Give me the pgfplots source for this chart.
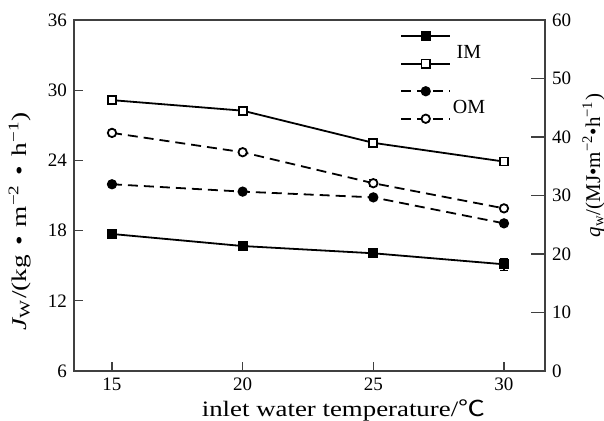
\documentclass[border=0pt]{standalone}
\usepackage{graphicx}
\usepackage{fontspec}
\setmainfont{Liberation Serif}
\newfontfamily\cjk{Noto Sans CJK SC}
\usepackage{pgfplots}
\pgfplotsset{compat=1.18}

\definecolor{axisgray}{HTML}{404040}

\pgfplotsset{
  twin/.style={
    scale only axis, width=235.5pt, height=175.5pt,
    xmin=13.546, xmax=31.57,
    xtick={15,20,25,30},
    tick align=inside,
    tick label style={font=\fontsize{9.5}{11}\selectfont},
    /pgf/number format/assume math mode=true,
    axis line style={axisgray, line width=0.6pt},
    major tick style={axisgray, line width=0.6pt},
    label style={font=\fontsize{10.5}{12}\selectfont},
    every axis plot/.append style={black, line width=0.9pt},
    error bars/error bar style={line width=0.6pt},
    error bars/error mark options={rotate=90, mark size=2pt, line width=0.6pt},
  },
  dashline/.style={dash pattern=on 5pt off 3pt},
}

\begin{document}
\begin{tikzpicture}
% left axis: J_W, filled markers
\begin{axis}[twin,
  ymin=6, ymax=36, ytick={6,12,...,36},
  xtick pos=lower, ytick pos=left,
  major tick length=4.5pt,
  xlabel={\scalebox{1.22}[1]{inlet water temperature/{\cjk ℃}}},
  xlabel style={font=\fontsize{11}{12}\selectfont, at={(rel axis cs:0.572,-0.111)}, anchor=center},
  ylabel={\scalebox{1.3}[1]{{\itshape J}\textsubscript{W}/(kg\,\,•\,\,m\textsuperscript{−2}\,\,•\,\,h\textsuperscript{−1})}},
  ylabel style={at={(rel axis cs:-0.115,0.427)}, anchor=center},
]
\coordinate (sw) at (rel axis cs:0,0);
\coordinate (ne) at (rel axis cs:1,1);
\addplot[solid, mark=square*, mark size=2.1pt,
  error bars/.cd, y dir=both, y explicit]
  coordinates {(15,17.71) (20,16.68) (25,16.06) (30,15.12) +- (0,0.5)};
\addplot[dashline, mark=*, mark size=2.1pt, mark options={solid}]
  coordinates {(15,21.96) (20,21.33) (25,20.84) (30,18.62)};
\end{axis}

% right axis: q_w, open markers
\begin{axis}[twin,
  ymin=0, ymax=60, ytick={0,10,...,60},
  axis x line=none, axis y line*=right,
  major tick length=7pt,
  ylabel={{\itshape q}\textsubscript{w}/(MJ•m\textsuperscript{−2}•h\textsuperscript{−1})},
  ylabel style={at={(rel axis cs:1.103,0.585)}, anchor=center},
  legend image code/.code={
    \draw[mark repeat=2, mark phase=2] plot coordinates {(0pt,0pt) (12.25pt,0pt) (24.5pt,0pt)};},
  legend style={draw=none, fill=none, at={(rel axis cs:0.692,0.994)}, anchor=north west,
    inner sep=0pt, row sep=0pt, column sep=0pt,
    nodes={inner sep=0pt, minimum height=13.75pt}},
]
\addlegendimage{solid, black, line width=0.9pt, mark=square*, mark size=2.1pt}
\addlegendentry{\phantom{I}}
\addlegendimage{solid, black, line width=0.9pt, mark=square*, mark size=2.1pt, mark options={fill=white}}
\addlegendentry{\phantom{I}}
\addlegendimage{dashline, black, line width=0.9pt, mark=*, mark size=2.1pt, mark options={solid}}
\addlegendentry{\phantom{I}}
\addlegendimage{dashline, black, line width=0.9pt, mark=*, mark size=2.1pt, mark options={solid, fill=white}}
\addlegendentry{\phantom{I}}

\addplot[solid, mark=square*, mark size=2pt, mark options={fill=white},
  error bars/.cd, y dir=both, y explicit]
  coordinates {(15,46.3) +- (0,0.7) (20,44.5) +- (0,0.7) (25,39.0) (30,35.8) +- (0,0.7)};
\addplot[dashline, mark=*, mark size=2.1pt, mark options={solid, fill=white},
  error bars/.cd, y dir=both, y explicit]
  coordinates {(15,40.7) (20,37.4) (25,32.1) +- (0,0.6) (30,27.8)};

\node[font=\fontsize{10}{12}\selectfont, anchor=center] at (axis cs:28.66,54.5) {IM};
\node[font=\fontsize{10}{12}\selectfont, anchor=center] at (axis cs:28.66,45.1) {OM};
\end{axis}

\pgfresetboundingbox
\path ([shift={(-37pt,-25pt)}]sw) rectangle ([shift={(29.5pt,10pt)}]ne);
\end{tikzpicture}
\end{document}
